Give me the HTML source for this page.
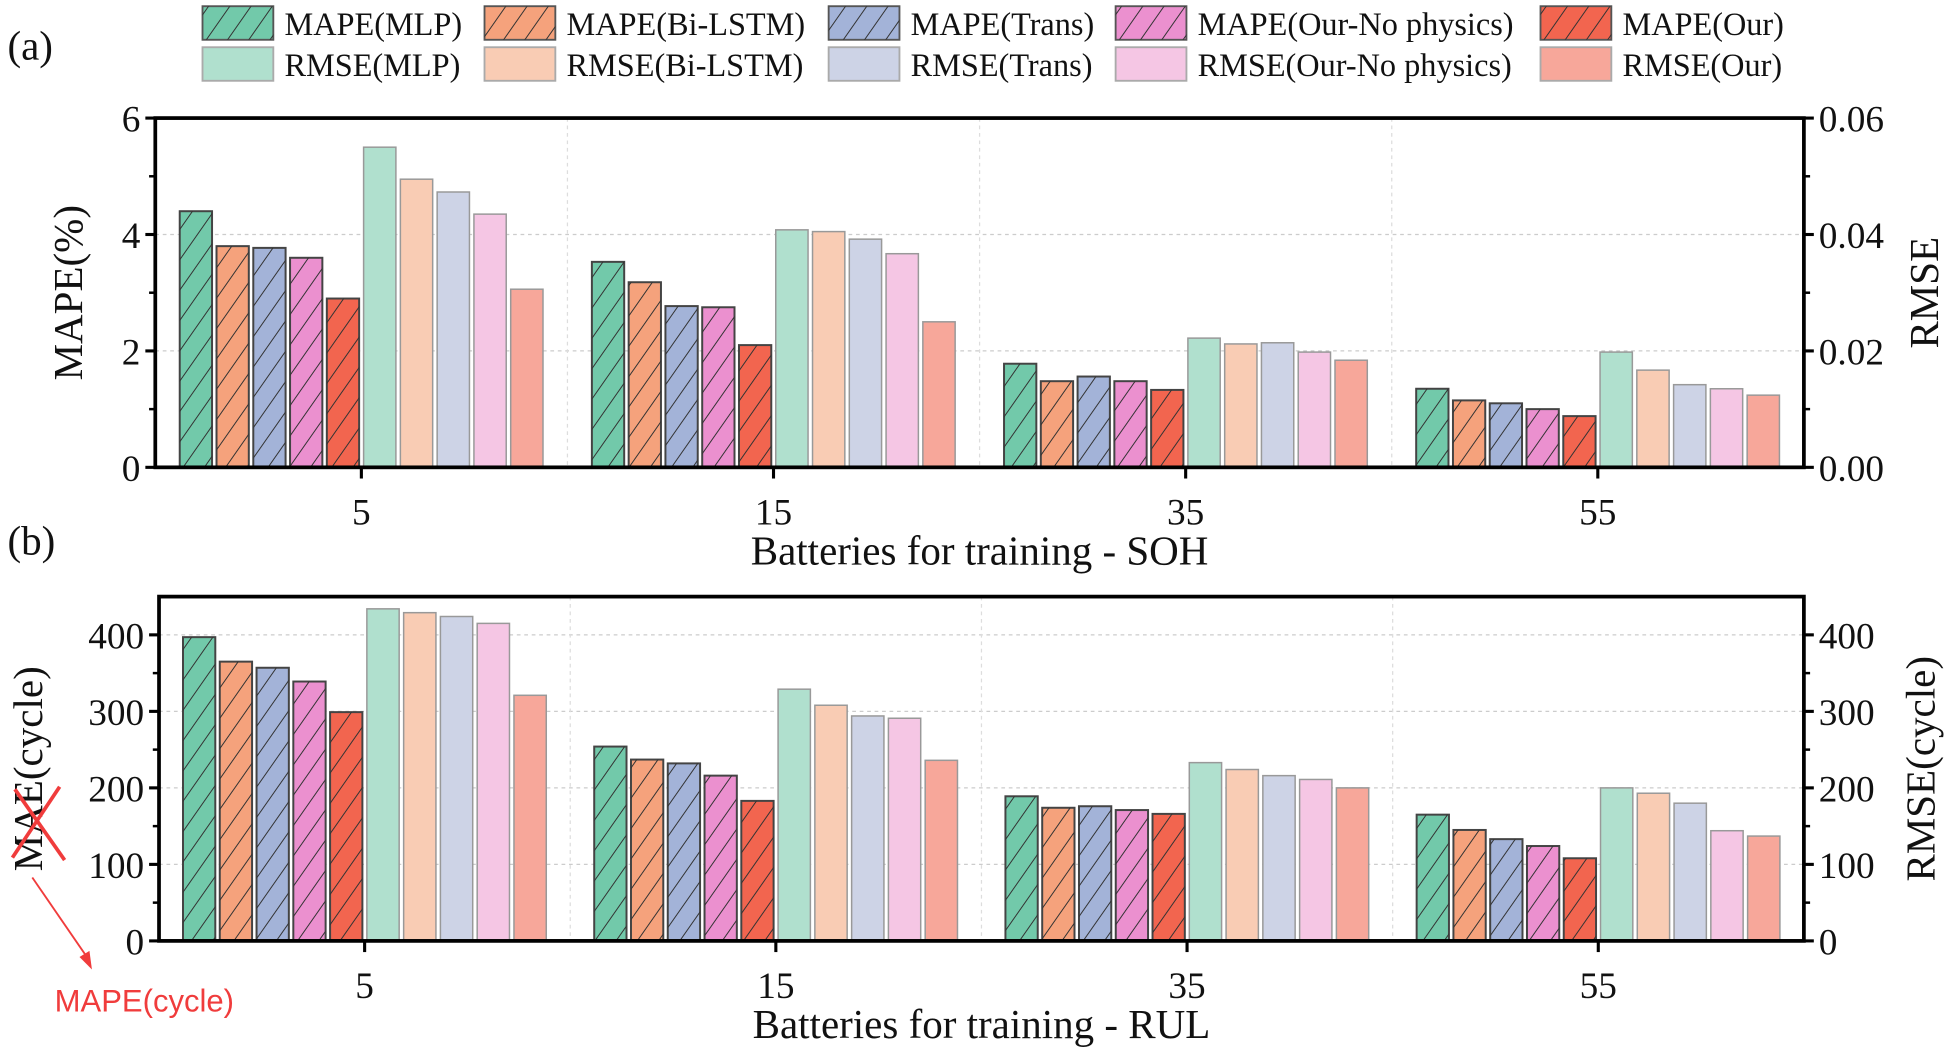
<!DOCTYPE html>
<html><head><meta charset="utf-8"><style>
html,body{margin:0;padding:0;background:#fff;}
svg{display:block;}
text{font-family:"Liberation Serif",serif;fill:#111;}
</style></head><body>
<svg id="chart" width="1948" height="1054" viewBox="0 0 1568 848" preserveAspectRatio="none" xmlns="http://www.w3.org/2000/svg">
<defs>
<pattern id="hatch" patternUnits="userSpaceOnUse" width="14" height="14" patternTransform="rotate(35)">
<line x1="0" y1="0" x2="0" y2="14" stroke="#333" stroke-width="1.6"/>
</pattern>
</defs>
<g id="legend"></g>
<g id="plotA"></g>
<g id="plotB"></g>
<text x="6" y="48" font-size="33">(a)</text>
<text x="6" y="446" font-size="33">(b)</text>
<g>
<line x1="12" y1="635" x2="52" y2="692" stroke="#f03c3c" stroke-width="3"/>
<line x1="48" y1="633" x2="10" y2="690" stroke="#f03c3c" stroke-width="3"/>
<line x1="26" y1="706" x2="70" y2="770" stroke="#f03c3c" stroke-width="1.5"/>
<polygon points="74,780 64,770 72,765" fill="#f03c3c"/>
<text x="44" y="814" font-size="25" style="font-family:'Liberation Sans',sans-serif;fill:#f03c3c">MAPE(cycle)</text>
</g>
</svg>
<script>
const categories = ["5","15","35","55"];
const seriesNames = ["MLP","Bi-LSTM","Trans","Our-No physics","Our"];
const sohMape = [[4.4,3.53,1.78,1.35],[3.8,3.18,1.48,1.15],[3.77,2.77,1.56,1.1],[3.6,2.75,1.48,1.0],[2.9,2.1,1.33,0.88]];
const sohRmse = [[0.055,0.0408,0.0222,0.0198],[0.0495,0.0405,0.0212,0.0167],[0.0473,0.0392,0.0214,0.0142],[0.0435,0.0367,0.0198,0.0135],[0.0306,0.025,0.0184,0.0124]];
const rulMae = [[397,254,189,165],[365,237,174,145],[357,232,176,133],[339,216,171,124],[299,183,166,108]];
const rulRmse = [[434,329,233,200],[429,308,224,193],[424,294,216,180],[415,291,211,144],[321,236,200,137]];
const sohLeftTicks = ["0","2","4","6"];
const sohRightTicks = ["0.00","0.02","0.04","0.06"];
const rulTicks = ["0","100","200","300","400"];
const dark = ["#72c9aa","#f5a27c","#a3b3d8","#eb90cf","#f2654f"];
const light = ["#b0e0ce","#f9ccb4","#cdd3e6","#f5c6e4","#f7a79a"];
const NS="http://www.w3.org/2000/svg";
function mk(parent,tag,attrs,txt){const e=document.createElementNS(NS,tag);for(const k in attrs)e.setAttribute(k,attrs[k]);if(txt!==undefined)e.textContent=txt;parent.appendChild(e);return e;}

const lg=document.getElementById('legend');
const lx=[163,390,667,898,1240];
seriesNames.forEach((n,i)=>{
  const a=mk(lg,'rect',{x:lx[i],y:5,width:57,height:27,fill:dark[i],stroke:'#555','stroke-width':1.5});
  
  
  mk(lg,'rect',{x:lx[i],y:5,width:57,height:27,fill:'url(#hatch)'});
  const t=mk(lg,'text',{x:lx[i]+66,y:28,'font-size':26},'MAPE('+n+')');
  
  
  const b=mk(lg,'rect',{x:lx[i],y:38,width:57,height:27,fill:light[i],stroke:'#aaa','stroke-width':1.5});
  
  
  const t2=mk(lg,'text',{x:lx[i]+66,y:61,'font-size':26},'RMSE('+n+')');
  
  
});

function panel(g,cfg){
  const {L,R,T,B,lmax,rmax,left,right,lTicks,rTicks,lStep,rStep,xtitle,ylab,yrlab,ylx,yrx}=cfg;
  const yL=v=>B-v/lmax*(B-T), yR=v=>B-v/rmax*(B-T);
  const gw=(R-L)/4, xC=i=>L+gw*(i+0.5);
  lTicks.forEach((t,k)=>{const y=yL(k*lStep); if(k>0&&y>T+2) mk(g,'line',{x1:L,x2:R,y1:y,y2:y,stroke:'#ccc','stroke-dasharray':'3,3'});});
  for(let i=1;i<4;i++) mk(g,'line',{x1:L+gw*i,x2:L+gw*i,y1:T,y2:B,stroke:'#ddd','stroke-dasharray':'3,3'});
  const bw=26, st=29.6;
  categories.forEach((c,ci)=>{
    const x0=xC(ci)-5*st;
    for(let s=0;s<5;s++){
      const x=x0+s*st+1.8, y=yL(left[s][ci]);
      const r=mk(g,'rect',{x:x,y:y,width:bw,height:B-y,fill:dark[s],stroke:'#444','stroke-width':1.6});
      
      
      mk(g,'rect',{x:x,y:y,width:bw,height:B-y,fill:'url(#hatch)'});
    }
    for(let s=0;s<5;s++){
      const x=xC(ci)+s*st+1.8, y=yR(right[s][ci]);
      const r=mk(g,'rect',{x:x,y:y,width:bw,height:B-y,fill:light[s],stroke:'#999','stroke-width':1.2});
      
      
    }
    mk(g,'line',{x1:xC(ci),x2:xC(ci),y1:B,y2:B+9,stroke:'#000','stroke-width':2.5});
    const tl=mk(g,'text',{x:xC(ci),y:B+46,'font-size':30,'text-anchor':'middle'},c);
    
    
  });
  mk(g,'rect',{x:L,y:T,width:R-L,height:B-T,fill:'none',stroke:'#000','stroke-width':3});
  lTicks.forEach((t,k)=>{const y=yL(k*lStep);
    mk(g,'line',{x1:L-8,x2:L,y1:y,y2:y,stroke:'#000','stroke-width':2.5});
    const e=mk(g,'text',{x:L-12,y:y+11,'font-size':30,'text-anchor':'end'},t);
    
    
    const ym=yL((k+0.5)*lStep); if(ym>T) {mk(g,'line',{x1:L-5,x2:L,y1:ym,y2:ym,stroke:'#000','stroke-width':2});}
  });
  rTicks.forEach((t,k)=>{const y=yR(k*rStep);
    mk(g,'line',{x1:R,x2:R+8,y1:y,y2:y,stroke:'#000','stroke-width':2.5});
    const e=mk(g,'text',{x:R+12,y:y+11,'font-size':30},t);
    
    
    const ym=yR((k+0.5)*rStep); if(ym>T) mk(g,'line',{x1:R,x2:R+5,y1:ym,y2:ym,stroke:'#000','stroke-width':2});
  });
  const xt=mk(g,'text',{x:(L+R)/2,y:B+78,'font-size':33,'text-anchor':'middle'},xtitle);
  
  
  const yc=(T+B)/2;
  const yl=mk(g,'text',{x:ylx,y:yc,'font-size':33,'text-anchor':'middle',transform:`rotate(-90 ${ylx} ${yc})`},ylab);
  
  
  const yr=mk(g,'text',{x:yrx,y:yc,'font-size':33,'text-anchor':'middle',transform:`rotate(-90 ${yrx} ${yc})`},yrlab);
  
  
}
panel(document.getElementById('plotA'),{L:125,R:1452,T:95,B:376,lmax:6,rmax:0.06,left:sohMape,right:sohRmse,lTicks:sohLeftTicks,rTicks:sohRightTicks,lStep:2,rStep:0.02,xtitle:'Batteries for training - SOH',ylab:'MAPE(%)',yrlab:'RMSE',ylx:66,yrx:1560});
panel(document.getElementById('plotB'),{L:128,R:1452,T:480,B:757,lmax:450,rmax:450,left:rulMae,right:rulRmse,lTicks:rulTicks,rTicks:rulTicks,lStep:100,rStep:100,xtitle:'Batteries for training - RUL',ylab:'MAE(cycle)',yrlab:'RMSE(cycle)',ylx:34,yrx:1557});
</script>
</body></html>
